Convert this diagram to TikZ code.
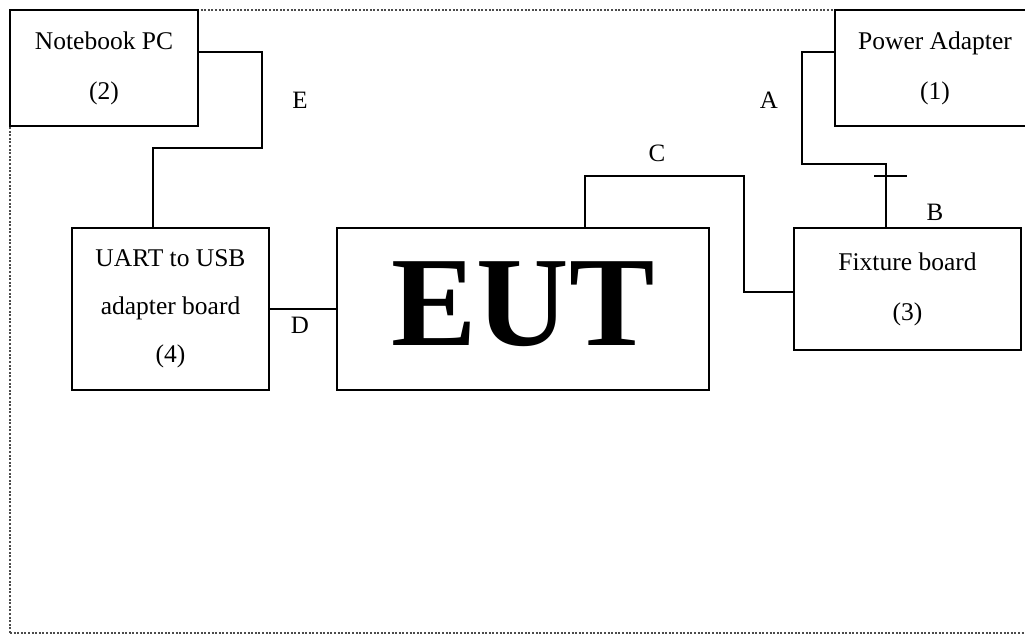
\documentclass[tikz,border=0pt]{standalone}
\usepackage{fontspec}
\setmainfont{Liberation Serif}
\usetikzlibrary{calc}
\begin{document}
\begin{tikzpicture}[x=1pt,y=-1pt,
  box/.style={draw,line width=1.6pt,rectangle,inner sep=0pt,align=center,font=\fontsize{25.5}{50}\selectfont},
  wire/.style={line width=1.6pt},
  lbl/.style={inner sep=0pt,font=\fontsize{25}{28}\selectfont},
  border/.style={line width=2.2pt,black!70,dash pattern=on 2pt off 1.6pt}]
\useasboundingbox (0,0) rectangle (1025,635);
\clip (0,0) rectangle (1025,635);
% dotted border
\draw[border] (10,633) -- (10,10) -- (1025,10);
\draw[border] (10,633) -- (1025,633);
% boxes
\node[box,minimum width=188pt,minimum height=116pt] (nb) at (104,68) {Notebook PC\\(2)};
\node[box,minimum width=200pt,minimum height=116pt] (pa) at (935,68) {Power Adapter\\(1)};
\node[box,minimum width=197pt,minimum height=162pt,font=\fontsize{25.5}{48}\selectfont] (uart) at (170.5,309) {UART to USB\\adapter board\\(4)};
\node[box,minimum width=372pt,minimum height=162pt] (eut) at (523,309) {};
\node[inner sep=0pt,font=\fontsize{128}{130}\selectfont\bfseries] (euttext) at ($(eut.center)+(0,-4.5)$) {EUT};
\node[box,minimum width=227pt,minimum height=122pt] (fix) at (907.5,289) {Fixture board\\(3)};
% bend points
\coordinate (e1) at (262,148);
\coordinate (c1) at (744,176);
\coordinate (a1) at (802,164);
\coordinate (t1) at (874,176);
% connectors
\draw[wire] ($(nb.north east)+(0,43)$) -| (e1) -| ($(uart.north west)+(82,0)$);
\draw[wire] (uart.east) -- (eut.west);
\draw[wire] ($(eut.north west)+(249,0)$) |- (c1) |- ($(fix.north west)+(0,65)$);
\draw[wire] ($(pa.north west)+(0,43)$) -| (a1) -| ($(fix.north west)+(93,0)$);
\draw[wire] (t1) -- ++(33,0);
% labels
\node[lbl] (le) at (300,100) {E};
\node[lbl] (ld) at (300,325) {D};
\node[lbl] (lc) at (657,153) {C};
\node[lbl] (la) at (769,100) {A};
\node[lbl] (lb) at (935,212) {B};
\end{tikzpicture}
\end{document}
